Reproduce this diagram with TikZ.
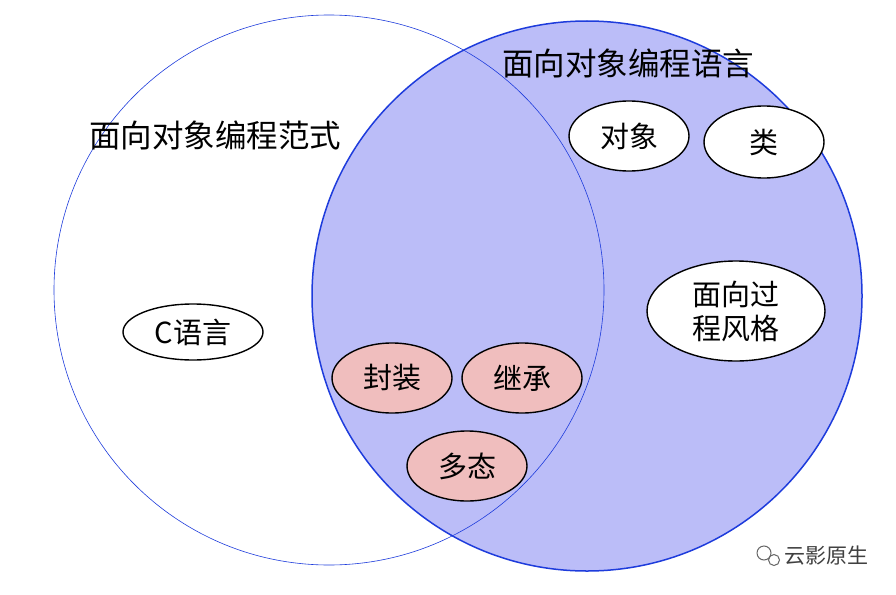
\documentclass[tikz,border=0pt]{standalone}
\usepackage{fontspec}
\setmainfont{Noto Sans CJK SC}
\begin{document}
\begin{tikzpicture}[x=1pt,y=-1pt,
 el/.style={ellipse,draw=black,line width=1.4pt,fill=white,inner sep=0pt,font=\fontsize{29}{34}\selectfont},
 pk/.style={el,fill=pinkc},
 lab/.style={font=\fontsize{31.5}{36}\selectfont}]
\usetikzlibrary{shapes.geometric}
\definecolor{lav}{RGB}{187,189,248}
\definecolor{bl}{RGB}{30,60,220}
\definecolor{pinkc}{RGB}{240,190,190}
\useasboundingbox (0,0) rectangle (896,594);
\fill[white] (0,0) rectangle (896,594);
\draw[fill=lav,draw=bl,line width=1.5pt] (587,296) circle (275);
\draw[draw=bl,line width=0.6pt] (329,290) circle (275);
\node[lab] (t1) at (215,135) {面向对象编程范式};
\node[lab] (t2) at (628,63) {面向对象编程语言};
\node[el,minimum width=120,minimum height=70] (a) at (629,136) {对象};
\node[el,minimum width=120,minimum height=72] (b) at (764,142) {类};
\node[el,minimum width=178,minimum height=100,align=center] (c) at (736,311) {面向过\\程风格};
\node[el,minimum width=140,minimum height=56] (d) at (193,332) {C语言};
\node[pk,minimum width=120,minimum height=70] (e) at (392,378) {封装};
\node[pk,minimum width=120,minimum height=70] (f) at (522,378) {继承};
\node[pk,minimum width=120,minimum height=70] (g) at (467,466) {多态};
\node[font=\fontsize{21}{24}\selectfont,text=black!75] (w) at (826,556) {云影原生};
\node[circle,draw=black!60,line width=1pt,minimum size=14,inner sep=0] (w1) at (764,553) {};
\node[circle,draw=black!60,line width=1pt,minimum size=11,inner sep=0] (w2) at (774,560) {};
\end{tikzpicture}
\end{document}
